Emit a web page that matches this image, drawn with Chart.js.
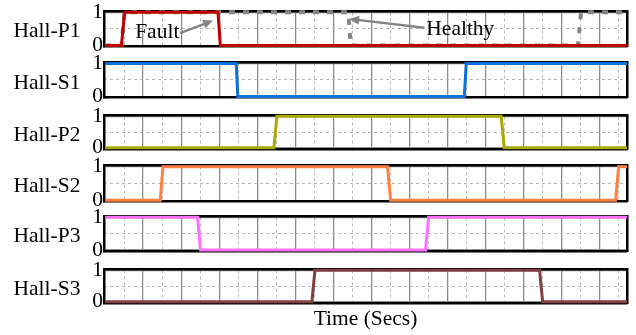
<!DOCTYPE html>
<html>
<head>
<meta charset="utf-8">
<script src="https://cdn.jsdelivr.net/npm/chart.js@4/dist/chart.umd.min.js"></script>
<style>
  html, body { margin: 0; padding: 0; background: #fff; }
  #wrap { position: relative; width: 636px; height: 335px; overflow: hidden; }
  #wrap canvas { position: absolute; left: 0; top: 0; }
</style>
</head>
<body>
<div id="wrap"></div>
<script>
// Hall sensor names and trace colours, top to bottom
const signalNames  = ['Hall-P1', 'Hall-S1', 'Hall-P2', 'Hall-S2', 'Hall-P3', 'Hall-S3'];
const signalColors = ['#C00000', '#0A70DC', '#AAAA00', '#FF8040', '#FF70FF', '#804040'];
const healthyColor = '#858585';

// Switching instants (time-axis units) and logic levels of each signal
const p1FaultTime    = [0, 0.43, 0.51, 2.97, 3.03, 13.73];
const p1FaultLevel   = [0, 0, 1, 1, 0, 0];
const p1HealthyTime  = [0, 0.43, 0.51, 6.40, 6.46, 12.44, 12.52, 13.73];
const p1HealthyLevel = [0, 0, 1, 1, 0, 0, 1, 1];
const s1Time  = [0, 3.45, 3.49, 9.45, 9.50, 13.73];
const s1Level = [1, 1, 0, 0, 1, 1];
const p2Time  = [0, 4.44, 4.52, 10.42, 10.50, 13.73];
const p2Level = [0, 0, 1, 1, 0, 0];
const s2Time  = [0, 1.45, 1.52, 7.43, 7.51, 13.43, 13.51, 13.73];
const s2Level = [0, 0, 1, 1, 0, 0, 1, 1];
const p3Time  = [0, 2.43, 2.51, 8.43, 8.51, 13.73];
const p3Level = [1, 1, 0, 0, 1, 1];
const s3Time  = [0, 5.44, 5.52, 11.43, 11.51, 13.73];
const s3Level = [0, 0, 1, 1, 0, 0];

// Grid / tick positions
const timeMajorTicks = [1, 2, 3, 4, 5, 6, 7, 8, 9, 10, 11, 12, 13];
const timeMinorTicks = [0.5, 1.5, 2.5, 3.5, 4.5, 5.5, 6.5, 7.5, 8.5, 9.5, 10.5, 11.5, 12.5, 13.5];
const levelTicks     = [0, 1];
const levelMidTicks  = [0.5];
const timeTitle      = 'Time (Secs)';

const TIME_MIN = -0.03, TIME_MAX = 13.73;
const LEVEL_MIN = -0.04, LEVEL_MAX = 1.04;
const FONT = '"Liberation Serif", "Times New Roman", serif';
const FONT_SIZE = 21.5;

// vertical placement of each strip's plot area (top, bottom) on the page
const stripTop    = [11, 62.3, 115, 165.3, 216, 269];
const stripBottom = [46.7, 97.7, 149, 201.7, 251.3, 303.3];
const PLOT_LEFT = 104, PLOT_RIGHT = 627, H = 335, W = 636;

const toPoints = (t, v) => t.map((x, i) => ({ x, y: v[i] }));

const traces = [
  [{ label: 'Fault', points: toPoints(p1FaultTime, p1FaultLevel) },
   { label: 'Healthy', points: toPoints(p1HealthyTime, p1HealthyLevel), dashed: true }],
  [{ label: 'S1', points: toPoints(s1Time, s1Level) }],
  [{ label: 'P2', points: toPoints(p2Time, p2Level) }],
  [{ label: 'S2', points: toPoints(s2Time, s2Level) }],
  [{ label: 'P3', points: toPoints(p3Time, p3Level) }],
  [{ label: 'S3', points: toPoints(s3Time, s3Level) }]
];

// Text notes with arrows on the first strip, placed in data coordinates
const notes = [
  { text: 'Fault',   tx: 0.79, ty: 0.39, from: [1.97, 0.37], to: [2.84, 0.75] },
  { text: 'Healthy', tx: 8.45, ty: 0.49, from: [8.40, 0.53], to: [6.42, 0.80] }
];

const stripName = {
  id: 'stripName',
  afterDraw(chart, args, opts) {
    const { ctx, chartArea } = chart;
    ctx.save();
    ctx.font = FONT_SIZE + 'px ' + FONT;
    ctx.fillStyle = '#000';
    ctx.textAlign = 'left';
    ctx.textBaseline = 'alphabetic';
    ctx.fillText(opts.text, 13.5, (chartArea.top + chartArea.bottom) / 2 + 8.5);
    ctx.restore();
  }
};

const noteLayer = {
  id: 'noteLayer',
  afterDatasetsDraw(chart, args, opts) {
    if (!opts.items) return;
    const { ctx, scales } = chart;
    const px = v => scales.x.getPixelForValue(v);
    const py = v => scales.y.getPixelForValue(v);
    ctx.save();
    opts.items.forEach(n => {
      const x1 = px(n.from[0]), y1 = py(n.from[1]);
      const x2 = px(n.to[0]), y2 = py(n.to[1]);
      const ang = Math.atan2(y2 - y1, x2 - x1);
      const head = 10, half = 4.5;
      ctx.strokeStyle = healthyColor;
      ctx.fillStyle = healthyColor;
      ctx.lineWidth = 2.5;
      ctx.beginPath();
      ctx.moveTo(x1, y1);
      ctx.lineTo(x2 - Math.cos(ang) * head * 0.8, y2 - Math.sin(ang) * head * 0.8);
      ctx.stroke();
      ctx.beginPath();
      ctx.moveTo(x2, y2);
      ctx.lineTo(x2 - Math.cos(ang) * head - Math.sin(ang) * half,
                 y2 - Math.sin(ang) * head + Math.cos(ang) * half);
      ctx.lineTo(x2 - Math.cos(ang) * head + Math.sin(ang) * half,
                 y2 - Math.sin(ang) * head - Math.cos(ang) * half);
      ctx.closePath();
      ctx.fill();
      ctx.font = FONT_SIZE + 'px ' + FONT;
      ctx.fillStyle = '#000';
      ctx.textAlign = 'left';
      ctx.textBaseline = 'middle';
      ctx.fillText(n.text, px(n.tx), py(n.ty));
    });
    ctx.restore();
  }
};

const wrap = document.getElementById('wrap');

signalNames.forEach((name, k) => {
  const canvas = document.createElement('canvas');
  canvas.width = W; canvas.height = H;
  canvas.style.width = W + 'px'; canvas.style.height = H + 'px';
  wrap.appendChild(canvas);
  const last = k === signalNames.length - 1;

  const datasets = traces[k].map(tr => ({
    label: tr.label,
    data: tr.points,
    borderColor: tr.dashed ? healthyColor : signalColors[k],
    borderWidth: tr.dashed ? 4 : 3,
    borderDash: tr.dashed ? [6, 8] : [],
    borderCapStyle: 'butt',
    pointRadius: 0,
    tension: 0,
    fill: false,
    clip: 4
  }));

  new Chart(canvas, {
    type: 'line',
    data: { datasets },
    plugins: [stripName, noteLayer],
    options: {
      responsive: false,
      animation: false,
      devicePixelRatio: 1,
      layout: {
        padding: {
          left: 0,
          right: W - PLOT_RIGHT,
          top: stripTop[k],
          bottom: last ? 0 : H - stripBottom[k]
        }
      },
      plugins: {
        legend: { display: false },
        tooltip: { enabled: false },
        stripName: { text: name },
        noteLayer: { items: k === 0 ? notes : null }
      },
      scales: {
        x: {
          type: 'linear', position: 'bottom',
          min: TIME_MIN, max: TIME_MAX,
          afterBuildTicks: s => { s.ticks = timeMajorTicks.map(value => ({ value })); },
          ticks: { display: false },
          grid: { color: '#8c8c8c', lineWidth: 1.3, drawTicks: false },
          border: { display: true, color: '#000', width: 2.5 },
          title: {
            display: last, text: timeTitle, color: '#000',
            font: { family: FONT, size: FONT_SIZE },
            padding: { top: 3.8, bottom: 2.4 }
          }
        },
        xMinor: {
          type: 'linear', position: 'top',
          min: TIME_MIN, max: TIME_MAX,
          afterBuildTicks: s => { s.ticks = timeMinorTicks.map(value => ({ value })); },
          afterFit: s => { s.height = 0; },
          ticks: { display: false },
          grid: { color: '#b8b8b8', lineWidth: 1, drawTicks: false },
          border: { display: true, color: '#000', width: 2.5, dash: [3, 3] }
        },
        y: {
          type: 'linear', position: 'left',
          min: LEVEL_MIN, max: LEVEL_MAX,
          afterBuildTicks: s => { s.ticks = levelTicks.map(value => ({ value })); },
          afterFit: s => { s.width = PLOT_LEFT; s.paddingTop = 0; s.paddingBottom = 0; },
          ticks: {
            color: '#000', padding: 1,
            font: { family: FONT, size: FONT_SIZE },
            callback: v => String(v)
          },
          grid: { color: '#8c8c8c', lineWidth: 1.3, drawTicks: false },
          border: { display: true, color: '#000', width: 2.5 }
        },
        yMinor: {
          type: 'linear', position: 'right',
          min: LEVEL_MIN, max: LEVEL_MAX,
          afterBuildTicks: s => { s.ticks = levelMidTicks.map(value => ({ value })); },
          afterFit: s => { s.width = 0; },
          ticks: { display: false },
          grid: { color: '#b8b8b8', lineWidth: 1, drawTicks: false },
          border: { display: true, color: '#000', width: 2.5, dash: [3, 3] }
        }
      }
    }
  });
});
</script>
</body>
</html>
